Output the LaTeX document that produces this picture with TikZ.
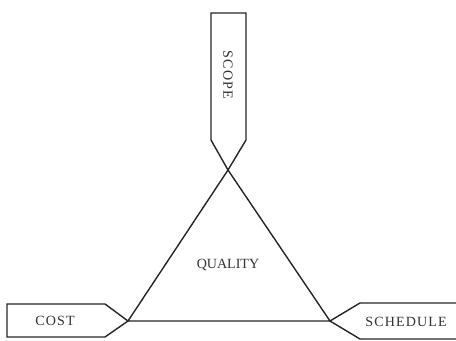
\documentclass[tikz,border=0pt]{standalone}
\usepackage{fontspec}
\setmainfont{Liberation Serif}
\newfontfamily\tagfont[LetterSpace=8]{Liberation Serif}
\tikzset{
  edge/.style={line width=0.8pt, draw=black!85, line join=miter},
  tag/.style={font=\tagfont\fontsize{8}{9}\selectfont, text=black!80},
}
\begin{document}
\begin{tikzpicture}
\useasboundingbox (0,0) rectangle (9.12,6.8);
% corners of the triangle
\coordinate (top) at (4.56,3.40);
\coordinate (left) at (2.56,0.38);
\coordinate (right) at (6.60,0.38);
\draw[edge] (top) -- (left) -- (right) -- cycle;
% the three pointers
\draw[edge] (top) -- (4.22,4.00) -- (4.22,6.54) -- (4.92,6.54) -- (4.92,4.00) -- cycle;
\draw[edge] (left) -- (2.10,0.72) -- (0.14,0.72) -- (0.14,0.06) -- (2.10,0.06) -- cycle;
\draw[edge] (9.12,0.74) -- (7.20,0.74) -- (right) -- (7.20,0.02) -- (9.12,0.02);
% labels
\node[tag, rotate=-90] (scope) at (4.56,5.30) {SCOPE};
\node[font=\fontsize{8}{9}\selectfont, text=black!80] (quality) at (4.56,1.50) {QUALITY};
\node[tag] (cost) at (1.10,0.38) {COST};
\node[tag] (schedule) at (8.12,0.37) {SCHEDULE};
\end{tikzpicture}
\end{document}
